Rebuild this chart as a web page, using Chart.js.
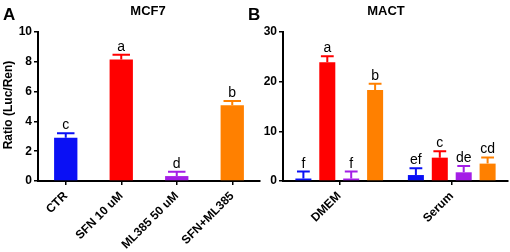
<!DOCTYPE html>
<html>
<head>
<meta charset="utf-8">
<script src="https://cdn.jsdelivr.net/npm/chart.js@4.4.1/dist/chart.umd.min.js"></script>
<style>
html,body{margin:0;padding:0;background:#fff;}
#wrap{position:relative;width:510px;height:252px;overflow:hidden;}
canvas{position:absolute;top:0;}
</style>
</head>
<body>
<div id="wrap">
<canvas id="cA" width="262" height="252" style="left:0px"></canvas>
<canvas id="cB" width="262" height="252" style="left:248px"></canvas>
</div>
<script>
// ---- Panel A data ----
const categoriesA = ['CTR', 'SFN 10 uM', 'ML385 50 uM', 'SFN+ML385'];
const valuesA = [2.9, 8.15, 0.33, 5.08];
const errorsA = [0.3, 0.32, 0.29, 0.29];
const lettersA = ['c', 'a', 'd', 'b'];
const yTicksA = [0, 2, 4, 6, 8, 10];

// ---- Panel B data ----
const categoriesB = ['DMEM', 'Serum'];
const seriesNamesB = ['CTR', 'SFN', 'ML385', 'SFN+ML385'];
const ctrB = [0.5, 1.2];
const ctrErrB = [1.4, 1.35];
const ctrLetB = ['f', 'ef'];
const sfnB = [23.9, 4.7];
const sfnErrB = [1.2, 1.3];
const sfnLetB = ['a', 'c'];
const mlB = [0.5, 1.75];
const mlErrB = [1.4, 1.25];
const mlLetB = ['f', 'de'];
const sfnMlB = [18.3, 3.5];
const sfnMlErrB = [1.3, 1.25];
const sfnMlLetB = ['b', 'cd'];
const yTicksB = [0, 10, 20, 30];

const titleA = 'MCF7';
const titleB = 'MACT';
const panelA = 'A';
const panelB = 'B';
const yTitle = 'Ratio (Luc/Ren)';

const COLORS = ['#0a10f5', '#ff0000', '#a41ee6', '#ff8000'];
const FONT = '"Liberation Sans", Arial, Helvetica, sans-serif';

Chart.defaults.color = '#000';
Chart.defaults.font.family = FONT;

const decorPlugin = {
  id: 'decor',
  afterDatasetsDraw(chart, args, opts) {
    const ctx = chart.ctx;
    const ys = chart.scales.y;
    ctx.save();
    chart.data.datasets.forEach((ds, di) => {
      const meta = chart.getDatasetMeta(di);
      meta.data.forEach((el, i) => {
        const v = ds.data[i];
        const e = ds.errors[i];
        const yTop = ys.getPixelForValue(v + e);
        const cw = el.width * opts.capFrac;
        ctx.strokeStyle = Array.isArray(ds.backgroundColor) ? ds.backgroundColor[i] : ds.backgroundColor;
        ctx.lineWidth = 2;
        ctx.beginPath();
        ctx.moveTo(el.x, el.y);
        ctx.lineTo(el.x, yTop);
        ctx.moveTo(el.x - cw / 2, yTop);
        ctx.lineTo(el.x + cw / 2, yTop);
        ctx.stroke();
        ctx.fillStyle = '#000';
        ctx.font = '14px ' + FONT;
        ctx.textAlign = 'center';
        ctx.textBaseline = 'alphabetic';
        ctx.fillText(ds.letters[i], el.x, yTop - 4);
      });
    });
    // titles
    ctx.fillStyle = '#000';
    ctx.font = 'bold 13px ' + FONT;
    ctx.textAlign = 'center';
    ctx.fillText(opts.title, opts.titleX, 15);
    ctx.font = 'bold 17px ' + FONT;
    ctx.textAlign = 'left';
    ctx.fillText(opts.panel, opts.panelX, 20);
    if (opts.yTitle) {
      ctx.save();
      ctx.translate(opts.yTitleX, 105);
      ctx.rotate(-Math.PI / 2);
      ctx.font = 'bold 12px ' + FONT;
      ctx.textAlign = 'center';
      ctx.textBaseline = 'middle';
      ctx.fillText(opts.yTitle, 0, 0);
      ctx.restore();
    }
    ctx.restore();
  }
};

function makeOptions(yMax, step, yWidth, decor) {
  return {
    responsive: false,
    animation: false,
    devicePixelRatio: 1,
    layout: { padding: { top: 32, right: 2, left: 0, bottom: 0 } },
    plugins: { legend: { display: false }, tooltip: { enabled: false }, decor: decor },
    scales: {
      x: {
        grid: { display: true, drawOnChartArea: false, drawTicks: true, tickLength: 4, color: '#000', lineWidth: 1.5, offset: false },
        border: { display: true, color: '#000', width: 2 },
        ticks: { minRotation: 45, maxRotation: 45, autoSkip: false, padding: 4, font: { family: FONT, size: 12, weight: 'bold' }, color: '#000' },
        afterFit(s) { s.height = 71; }
      },
      y: {
        min: 0, max: yMax,
        grid: { display: true, drawOnChartArea: false, drawTicks: true, tickLength: 4, color: '#000', lineWidth: 1.5 },
        border: { display: true, color: '#000', width: 2 },
        ticks: { stepSize: step, padding: 2, font: { family: FONT, size: 12, weight: 'bold' }, color: '#000' },
        afterFit(s) { s.width = yWidth; }
      }
    }
  };
}

new Chart(document.getElementById('cA'), {
  type: 'bar',
  data: {
    labels: categoriesA,
    datasets: [{
      data: valuesA,
      errors: errorsA,
      letters: lettersA,
      backgroundColor: COLORS,
      borderWidth: 0,
      barPercentage: 0.42,
      categoryPercentage: 1
    }]
  },
  options: makeOptions(yTicksA[yTicksA.length - 1], yTicksA[1] - yTicksA[0], 38,
    { capFrac: 0.75, title: titleA, titleX: 148, panel: panelA, panelX: 3, yTitle: yTitle, yTitleX: 9 }),
  plugins: [decorPlugin]
});

const seriesB = [
  [ctrB, ctrErrB, ctrLetB],
  [sfnB, sfnErrB, sfnLetB],
  [mlB, mlErrB, mlLetB],
  [sfnMlB, sfnMlErrB, sfnMlLetB]
];

new Chart(document.getElementById('cB'), {
  type: 'bar',
  data: {
    labels: categoriesB,
    datasets: seriesB.map((s, i) => ({
      label: seriesNamesB[i],
      data: s[0],
      errors: s[1],
      letters: s[2],
      backgroundColor: [COLORS[i], COLORS[i]],
      borderWidth: 0,
      barPercentage: 0.67,
      categoryPercentage: 0.85
    }))
  },
  options: makeOptions(yTicksB[yTicksB.length - 1], yTicksB[1] - yTicksB[0], 35,
    { capFrac: 0.8, title: titleB, titleX: 138, panel: panelB, panelX: 0, yTitle: null }),
  plugins: [decorPlugin]
});
</script>
</body>
</html>
